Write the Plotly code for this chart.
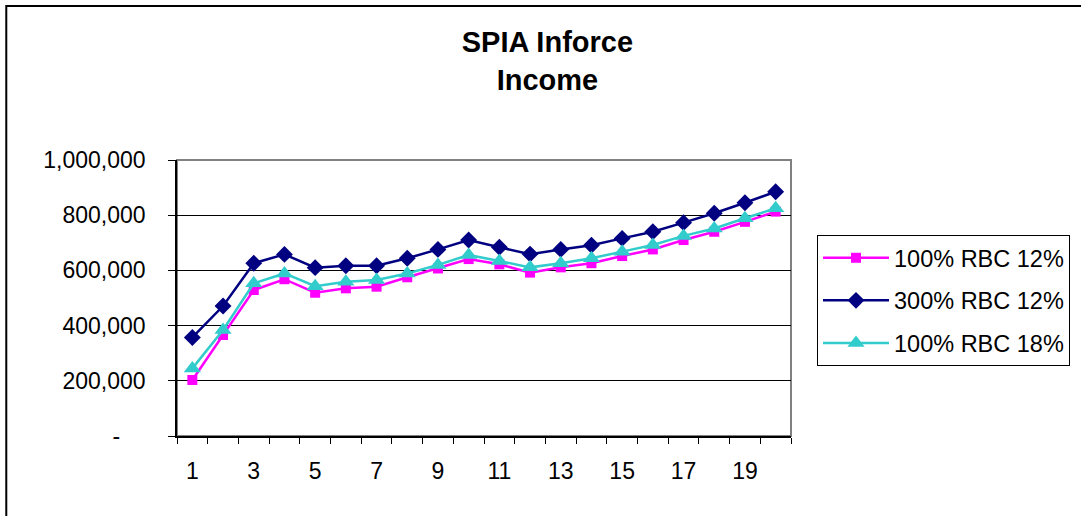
import plotly.graph_objects as go

years = list(range(1, 21))
rbc100_12 = [203000, 366000, 529000, 568000, 519000, 535000, 541000, 575000, 607000, 641000,
             622000, 592000, 611000, 626000, 652000, 676000, 710000, 740000, 776000, 813000]
rbc300_12 = [357000, 471000, 626000, 658000, 610000, 617000, 617000, 644000, 676000, 710000,
             684000, 659000, 676000, 691000, 716000, 740000, 773000, 807000, 845000, 885000]
rbc100_18 = [245000, 384000, 553000, 589000, 543000, 559000, 565000, 589000, 620000, 656000,
             634000, 611000, 626000, 644000, 668000, 692000, 725000, 752000, 789000, 825000]
series_names = ["100% RBC 12%", "300% RBC 12%", "100% RBC 18%"]
y_tickvals = [0, 200000, 400000, 600000, 800000, 1000000]
y_ticktext = ["-\u00a0\u00a0\u00a0\u00a0", "200,000", "400,000", "600,000", "800,000", "1,000,000"]
x_tickvals = [1, 3, 5, 7, 9, 11, 13, 15, 17, 19]
x_minor = [i + 0.5 for i in range(0, 21)]

FONT = "Liberation Sans, Arial, sans-serif"

fig = go.Figure()
fig.add_trace(go.Scatter(x=years, y=rbc100_12, name=series_names[0], mode="lines+markers",
                         legendgroup="a",
                         line=dict(color="#FF00FF", width=2.5),
                         marker=dict(symbol="square", size=10, color="#FF00FF")))
fig.add_trace(go.Scatter(x=years, y=rbc300_12, name=series_names[1], mode="lines+markers",
                         legendgroup="b",
                         line=dict(color="#000080", width=2.5),
                         marker=dict(symbol="diamond", size=13, color="#000080")))
fig.add_trace(go.Scatter(x=years, y=rbc100_18, name=series_names[2], mode="lines+markers",
                         legendgroup="c",
                         line=dict(color="#33CCCC", width=2.5),
                         marker=dict(symbol="triangle-up", size=15, color="#33CCCC")))

W, H = 1081, 516
L, R, T, B = 177, 792, 160, 436
pw, ph = R - L, B - T

def px_x(x):
    return (x - L) / pw

def px_y(y):
    return (B - y) / ph

fig.update_layout(
    width=W, height=H,
    margin=dict(l=L, r=W - R, t=T, b=H - B, pad=0),
    paper_bgcolor="white", plot_bgcolor="white",
    font=dict(family=FONT, size=23, color="black"),
    title=dict(text="<b>SPIA Inforce<br>Income</b>", x=px_x(548), xref="paper", xanchor="center",
               y=1 - 52 / H, yref="container", yanchor="top",
               font=dict(family=FONT, size=29, color="black")),
    showlegend=True,
    legend=dict(x=px_x(817), y=px_y(235), xanchor="left", yanchor="top",
                bordercolor="black", borderwidth=1, bgcolor="white",
                font=dict(family=FONT, size=23.5, color="black"),
                tracegroupgap=9, itemwidth=66, traceorder="grouped"),
    shapes=[
        dict(type="rect", xref="paper", yref="paper", x0=0, x1=1, y0=0, y1=1,
             line=dict(color="#808080", width=2), layer="below"),
        dict(type="rect", xref="paper", yref="paper", x0=px_x(6), x1=px_x(1095),
             y0=px_y(530), y1=px_y(6), line=dict(color="black", width=2), layer="below"),
    ],
)
fig.update_xaxes(range=[0.5, 20.5], tickmode="array", tickvals=x_tickvals,
                 ticktext=[str(v) for v in x_tickvals], ticks="", showgrid=False,
                 zeroline=False, showline=True, linecolor="black", linewidth=1.5,
                 ticklabelstandoff=14,
                 minor=dict(tickmode="array", tickvals=x_minor, ticks="outside", ticklen=6,
                            tickcolor="black", tickwidth=1, showgrid=False))
fig.update_yaxes(range=[0, 1000000], tickmode="array", tickvals=y_tickvals, ticktext=y_ticktext,
                 ticks="outside", ticklen=7, tickcolor="black", tickwidth=1,
                 showgrid=True, gridcolor="black", gridwidth=1, zeroline=False,
                 showline=True, linecolor="black", linewidth=1.5, ticklabelstandoff=18)

fig.write_html("out.html", config={"displayModeBar": False},
               post_script="document.body.style.margin='0px';")
